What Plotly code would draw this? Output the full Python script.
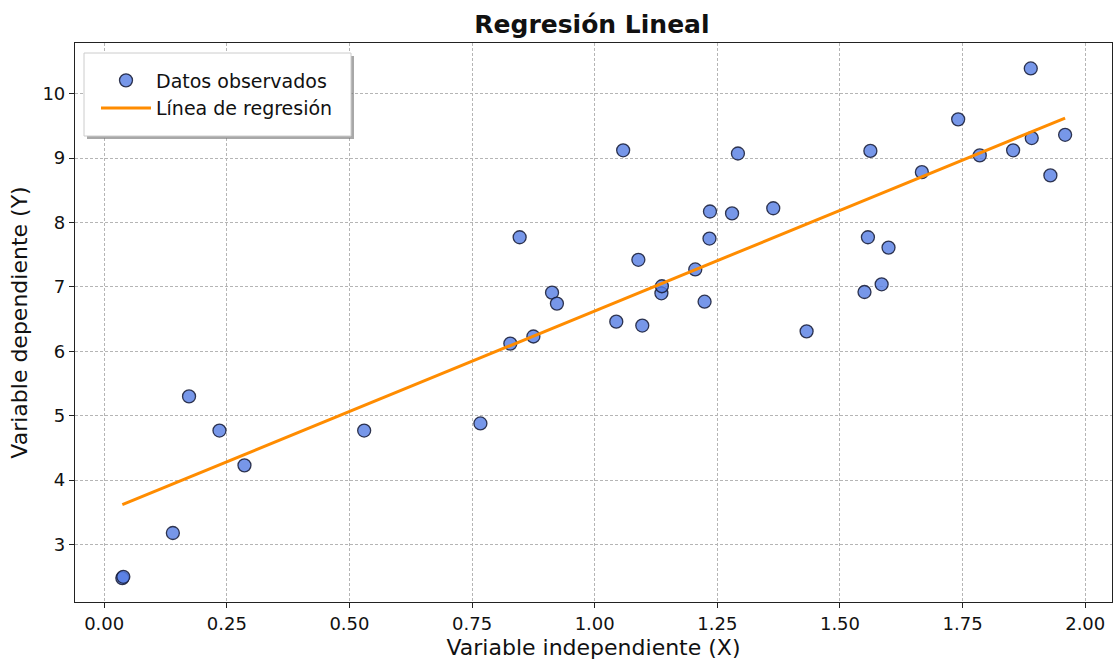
import plotly.graph_objects as go

x_obs = [0.037, 0.039, 0.140, 0.173, 0.235, 0.286, 0.530, 0.767, 0.828, 0.847,
         0.875, 0.913, 0.923, 1.044, 1.058, 1.089, 1.097, 1.136, 1.137, 1.205,
         1.224, 1.234, 1.235, 1.280, 1.292, 1.364, 1.432, 1.550, 1.557, 1.562,
         1.585, 1.599, 1.667, 1.741, 1.785, 1.853, 1.889, 1.891, 1.929, 1.959]
y_obs = [2.48, 2.50, 3.18, 5.30, 4.77, 4.23, 4.77, 4.88, 6.12, 7.77,
         6.23, 6.91, 6.74, 6.46, 9.12, 7.42, 6.40, 6.90, 7.01, 7.27,
         6.77, 7.75, 8.17, 8.14, 9.07, 8.22, 6.31, 6.92, 7.77, 9.11,
         7.04, 7.61, 8.78, 9.60, 9.04, 9.12, 10.39, 9.31, 8.73, 9.36]

# Regression line endpoints
x_line = [0.037, 1.959]
y_line = [3.62, 9.62]

x_ticks = [0.0, 0.25, 0.5, 0.75, 1.0, 1.25, 1.5, 1.75, 2.0]
x_tick_labels = ["0.00", "0.25", "0.50", "0.75", "1.00", "1.25", "1.50", "1.75", "2.00"]
y_ticks = [3, 4, 5, 6, 7, 8, 9, 10]

FONT = "DejaVu Sans"
W, H = 1119, 662
ML, MR, MT, MB = 75, 7, 43, 60
PW, PH = W - ML - MR, H - MT - MB


def px_x(p):
    return (p - ML) / PW


def px_y(p):
    return (H - MB - p) / PH


fig = go.Figure()
fig.add_trace(go.Scatter(
    x=x_obs, y=y_obs, mode="markers", name="Datos observados",
    marker=dict(size=13, color="rgba(85,125,228,0.8)",
                line=dict(color="rgba(20,25,50,0.85)", width=1.3)),
))
fig.add_trace(go.Scatter(
    x=x_line, y=y_line, mode="lines", name="Línea de regresión",
    line=dict(color="#ff8c00", width=3),
))

axis_common = dict(
    showline=True, linecolor="#222", linewidth=1.2, mirror=True,
    ticks="outside", ticklen=5, tickwidth=1.2, tickcolor="#222",
    showgrid=True, gridcolor="#b5b5b5", gridwidth=0.8, griddash="3px,2px",
    zeroline=False, tickfont=dict(family=FONT, size=18, color="#111"),
)

fig.update_layout(
    width=W, height=H,
    margin=dict(l=ML, r=MR, t=MT, b=MB),
    paper_bgcolor="white", plot_bgcolor="white",
    font=dict(family=FONT, color="#111"),
    title=dict(text="<b>Regresión Lineal</b>", x=0.529, xanchor="center",
               y=0.963, yanchor="middle",
               font=dict(family=FONT, size=25, color="#111")),
    xaxis=dict(range=[-0.0595, 2.0546], tickvals=x_ticks, ticktext=x_tick_labels,
               title=dict(text="Variable independiente (X)",
                          font=dict(family=FONT, size=22, color="#111"), standoff=6),
               **axis_common),
    yaxis=dict(range=[2.109, 10.785], tickvals=y_ticks,
               title=dict(text="Variable dependiente (Y)",
                          font=dict(family=FONT, size=22, color="#111"), standoff=8),
               **axis_common),
    legend=dict(x=px_x(96), y=px_y(61.5), xanchor="left", yanchor="top",
                bgcolor="rgba(0,0,0,0)", borderwidth=0,
                font=dict(family=FONT, size=19, color="#111"),
                itemwidth=50),
    showlegend=True,
)

# legend frame with shadow (drawn under the legend entries)
fig.add_shape(type="rect", xref="paper", yref="paper",
              x0=px_x(87), x1=px_x(354), y0=px_y(139), y1=px_y(56),
              fillcolor="rgba(110,110,110,0.6)", line=dict(width=0), layer="above")
fig.add_shape(type="rect", xref="paper", yref="paper",
              x0=px_x(84), x1=px_x(351), y0=px_y(136), y1=px_y(53),
              fillcolor="white", line=dict(color="#cccccc", width=1), layer="above")

fig.write_html("out.html")
